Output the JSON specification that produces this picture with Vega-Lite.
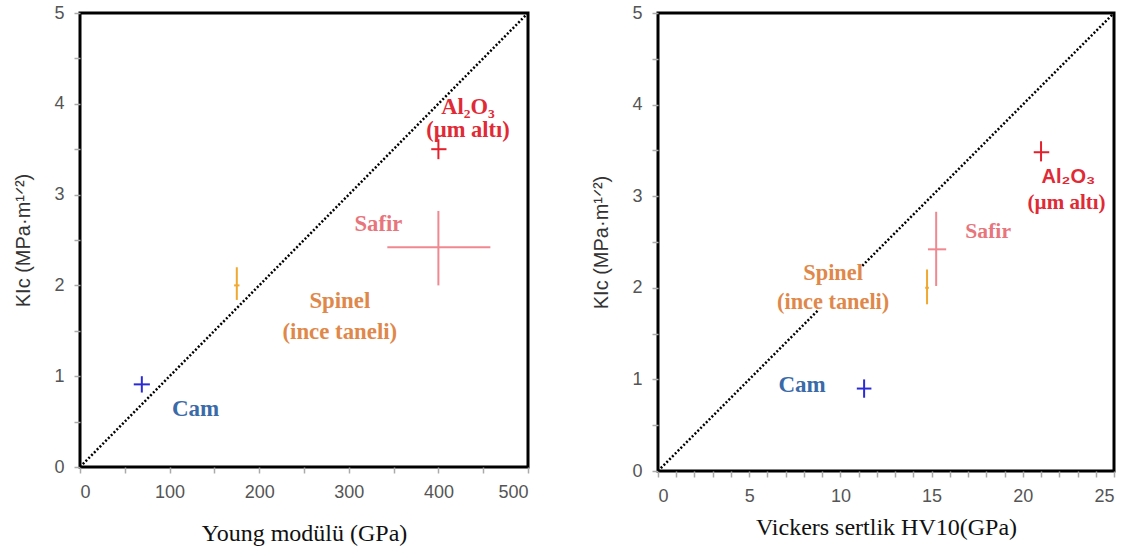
{
  "$schema": "https://vega.github.io/schema/vega-lite/v6.json",
  "padding": {"left": 12, "top": 2, "right": 5, "bottom": 5},
  "background": "white",
  "config": {
    "view": {"stroke": "black", "strokeWidth": 3},
    "axis": {"grid": false, "domain": false, "tickColor": "#aaaaaa", "tickSize": 6, "tickWidth": 1.5,
      "labelFont": "Liberation Sans", "labelFontSize": 18, "labelColor": "#555555", "labelPadding": 10,
      "labelOverlap": false, "titleFontWeight": "normal"},
    "axisY": {"titleFont": "Liberation Sans", "titleFontSize": 20, "titleColor": "#333333", "titlePadding": 20},
    "axisX": {"titleFont": "Liberation Serif", "titleFontSize": 24, "titleColor": "#111111"},
    "concat": {"spacing": 55}
  },
  "datasets": {
    "diagL": [{"seg": "a", "x": 0, "y": 0}, {"seg": "a", "x": 500, "y": 5}],
    "diagR": [{"seg": "a", "x": 0, "y": 0}, {"seg": "a", "x": 8.8, "y": 1.76}, {"seg": "b", "x": 11.2, "y": 2.24}, {"seg": "b", "x": 25, "y": 5}],
    "crossL": [
      {"material": "Cam", "x": 69, "y": 0.91, "xlo": 60, "xhi": 78, "ylo": 0.82, "yhi": 1.0},
      {"material": "Spinel", "x": 175, "y": 2.0, "xlo": 172, "xhi": 178, "ylo": 1.84, "yhi": 2.2},
      {"material": "Safir", "x": 400, "y": 2.42, "xlo": 343, "xhi": 458, "ylo": 2.0, "yhi": 2.82},
      {"material": "Al2O3", "x": 400, "y": 3.5, "xlo": 392, "xhi": 409, "ylo": 3.39, "yhi": 3.61}
    ],
    "crossR": [
      {"material": "Cam", "x": 11.3, "y": 0.9, "xlo": 10.9, "xhi": 11.7, "ylo": 0.8, "yhi": 1.0},
      {"material": "Spinel", "x": 14.75, "y": 2.0, "xlo": 14.65, "xhi": 14.85, "ylo": 1.82, "yhi": 2.2},
      {"material": "Safir", "x": 15.25, "y": 2.42, "xlo": 14.8, "xhi": 15.8, "ylo": 2.02, "yhi": 2.83},
      {"material": "Al2O3", "x": 21.0, "y": 3.48, "xlo": 20.6, "xhi": 21.45, "ylo": 3.38, "yhi": 3.6}
    ],
    "labelL": [
      {"material": "Al2O3", "label": "Al₂O₃", "x": 433, "y": 3.96},
      {"material": "Al2O3", "label": "(µm altı)", "x": 433, "y": 3.71},
      {"material": "Safir", "label": "Safir", "x": 333, "y": 2.68},
      {"material": "Spinel", "label": "Spinel", "x": 290, "y": 1.83},
      {"material": "Spinel", "label": "(ince taneli)", "x": 290, "y": 1.49},
      {"material": "Cam", "label": "Cam", "x": 129, "y": 0.64}
    ],
    "labelR": [
      {"material": "Al2O3", "label": "Al₂O₃", "x": 22.5, "y": 3.21},
      {"material": "Al2O3", "label": "(µm altı)", "x": 22.4, "y": 2.93},
      {"material": "Safir", "label": "Safir", "x": 18.1, "y": 2.62},
      {"material": "Spinel", "label": "Spinel", "x": 9.6, "y": 2.16},
      {"material": "Spinel", "label": "(ince taneli)", "x": 9.6, "y": 1.85},
      {"material": "Cam", "label": "Cam", "x": 7.9, "y": 0.94}
    ]
  },
  "hconcat": [
    {
      "width": 448, "height": 454,
      "resolve": {"scale": {"color": "independent", "size": "independent"}},
      "layer": [
        {
          "data": {"name": "diagL"},
          "mark": {"type": "line", "color": "black", "strokeWidth": 2.5, "strokeDash": [2, 2]},
          "encoding": {
            "x": {"field": "x", "type": "quantitative", "title": "Young modülü (GPa)", "scale": {"domain": [0, 500], "nice": false},
              "axis": {"tickCount": 10, "labelExpr": "datum.value % 100 === 0 ? format(datum.value, 'd') : ''", "titlePadding": 20}},
            "y": {"field": "y", "type": "quantitative", "title": "KIc (MPa·m¹ᐟ²)", "scale": {"domain": [0, 5], "nice": false},
              "axis": {"tickCount": 10, "labelExpr": "datum.value % 1 === 0 ? format(datum.value, 'd') : ''"}},
            "detail": {"field": "seg"}
          }
        },
        {
          "data": {"name": "crossL"},
          "mark": {"type": "rule", "strokeWidth": 2},
          "encoding": {
            "x": {"field": "xlo", "type": "quantitative", "title": "Young modülü (GPa)"},
            "x2": {"field": "xhi"},
            "y": {"field": "y", "type": "quantitative", "title": "KIc (MPa·m¹ᐟ²)"},
            "color": {"field": "material", "type": "nominal", "legend": null,
              "scale": {"domain": ["Cam", "Spinel", "Safir", "Al2O3"], "range": ["#2b2bd6", "#f0a830", "#f08890", "#e4202c"]}}
          }
        },
        {
          "data": {"name": "crossL"},
          "mark": {"type": "rule", "strokeWidth": 2},
          "encoding": {
            "x": {"field": "x", "type": "quantitative", "title": "Young modülü (GPa)"},
            "y": {"field": "ylo", "type": "quantitative", "title": "KIc (MPa·m¹ᐟ²)"},
            "y2": {"field": "yhi"},
            "color": {"field": "material", "type": "nominal", "legend": null,
              "scale": {"domain": ["Cam", "Spinel", "Safir", "Al2O3"], "range": ["#2b2bd6", "#f0a830", "#f08890", "#e4202c"]}}
          }
        },
        {
          "data": {"name": "labelL"},
          "mark": {"type": "text", "font": "Liberation Serif", "fontWeight": "bold"},
          "encoding": {
            "x": {"field": "x", "type": "quantitative", "title": "Young modülü (GPa)"},
            "y": {"field": "y", "type": "quantitative", "title": "KIc (MPa·m¹ᐟ²)"},
            "text": {"field": "label"},
            "size": {"field": "material", "type": "nominal", "legend": null,
              "scale": {"domain": ["Cam", "Spinel", "Safir", "Al2O3"], "range": [23, 22.5, 20, 21]}},
            "color": {"field": "material", "type": "nominal", "legend": null,
              "scale": {"domain": ["Cam", "Spinel", "Safir", "Al2O3"], "range": ["#3a6aa8", "#e0884a", "#e8747c", "#e02a36"]}}
          }
        }
      ]
    },
    {
      "width": 456, "height": 458,
      "resolve": {"scale": {"color": "independent", "size": "independent"}},
      "layer": [
        {
          "data": {"name": "diagR"},
          "mark": {"type": "line", "color": "black", "strokeWidth": 2.5, "strokeDash": [2, 2]},
          "encoding": {
            "x": {"field": "x", "type": "quantitative", "title": "Vickers sertlik HV10(GPa)", "scale": {"domain": [0, 25], "nice": false},
              "axis": {"tickCount": 25, "labelExpr": "datum.value % 5 === 0 ? format(datum.value, 'd') : ''", "titlePadding": 10}},
            "y": {"field": "y", "type": "quantitative", "title": "KIc (MPa·m¹ᐟ²)", "scale": {"domain": [0, 5], "nice": false},
              "axis": {"tickCount": 10, "labelExpr": "datum.value % 1 === 0 ? format(datum.value, 'd') : ''"}},
            "detail": {"field": "seg"}
          }
        },
        {
          "data": {"name": "crossR"},
          "mark": {"type": "rule", "strokeWidth": 2},
          "encoding": {
            "x": {"field": "xlo", "type": "quantitative", "title": "Vickers sertlik HV10(GPa)"},
            "x2": {"field": "xhi"},
            "y": {"field": "y", "type": "quantitative", "title": "KIc (MPa·m¹ᐟ²)"},
            "color": {"field": "material", "type": "nominal", "legend": null,
              "scale": {"domain": ["Cam", "Spinel", "Safir", "Al2O3"], "range": ["#2b2bd6", "#f0a830", "#f08890", "#e4202c"]}}
          }
        },
        {
          "data": {"name": "crossR"},
          "mark": {"type": "rule", "strokeWidth": 2},
          "encoding": {
            "x": {"field": "x", "type": "quantitative", "title": "Vickers sertlik HV10(GPa)"},
            "y": {"field": "ylo", "type": "quantitative", "title": "KIc (MPa·m¹ᐟ²)"},
            "y2": {"field": "yhi"},
            "color": {"field": "material", "type": "nominal", "legend": null,
              "scale": {"domain": ["Cam", "Spinel", "Safir", "Al2O3"], "range": ["#2b2bd6", "#f0a830", "#f08890", "#e4202c"]}}
          }
        },
        {
          "data": {"name": "labelR"},
          "transform": [{"filter": "datum.label !== 'Al₂O₃'"}],
          "mark": {"type": "text", "font": "Liberation Serif", "fontWeight": "bold"},
          "encoding": {
            "x": {"field": "x", "type": "quantitative", "title": "Vickers sertlik HV10(GPa)"},
            "y": {"field": "y", "type": "quantitative", "title": "KIc (MPa·m¹ᐟ²)"},
            "text": {"field": "label"},
            "size": {"field": "material", "type": "nominal", "legend": null,
              "scale": {"domain": ["Cam", "Spinel", "Safir", "Al2O3"], "range": [23, 21, 22, 21]}},
            "color": {"field": "material", "type": "nominal", "legend": null,
              "scale": {"domain": ["Cam", "Spinel", "Safir", "Al2O3"], "range": ["#3a6aa8", "#e0884a", "#e8747c", "#e02a36"]}}
          }
        },
        {
          "data": {"name": "labelR"},
          "transform": [{"filter": "datum.label === 'Al₂O₃'"}],
          "mark": {"type": "text", "font": "Liberation Sans", "fontWeight": "bold", "fontSize": 20},
          "encoding": {
            "x": {"field": "x", "type": "quantitative", "title": "Vickers sertlik HV10(GPa)"},
            "y": {"field": "y", "type": "quantitative", "title": "KIc (MPa·m¹ᐟ²)"},
            "text": {"field": "label"},
            "color": {"field": "material", "type": "nominal", "legend": null,
              "scale": {"domain": ["Cam", "Spinel", "Safir", "Al2O3"], "range": ["#3a6aa8", "#e0884a", "#e8747c", "#e02a36"]}}
          }
        }
      ]
    }
  ]
}
